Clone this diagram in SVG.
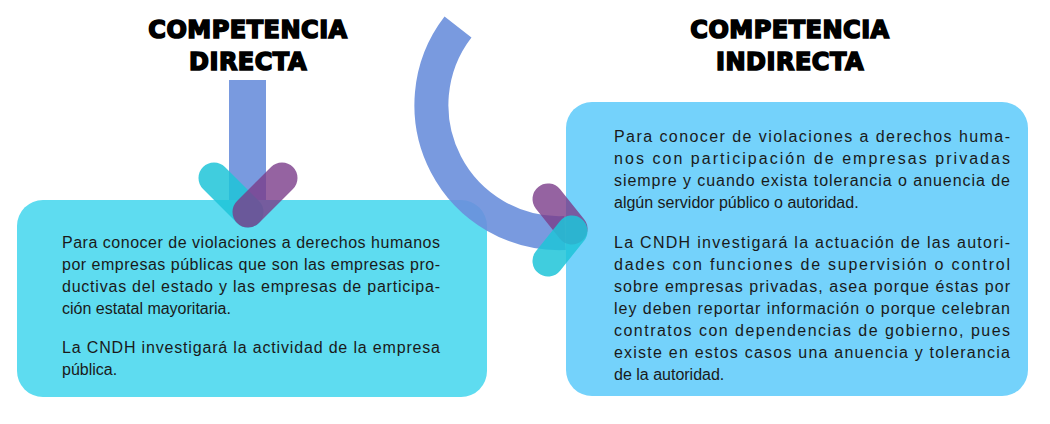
<svg xmlns="http://www.w3.org/2000/svg" width="1050" height="424" viewBox="0 0 1050 424">
<style>
.t{font-family:"Liberation Sans",Arial,sans-serif;font-size:16px;fill:#1a1a1a}
.h{font-family:"DejaVu Sans",sans-serif;font-weight:bold;font-size:24px;fill:#000;stroke:#000;stroke-width:1.6;text-anchor:middle;letter-spacing:0.5px}
.cap{fill:none;stroke-width:31;stroke-linecap:round}
</style>
<rect width="1050" height="424" fill="#fff"/>
<g id="title-directa"><text class="h" x="248" y="38">COMPETENCIA</text><text class="h" x="248" y="70">DIRECTA</text></g>
<g id="title-indirecta"><text class="h" x="790" y="38">COMPETENCIA</text><text class="h" x="790" y="70">INDIRECTA</text></g>
<g id="box-directa">
<rect x="17" y="200" width="470" height="197" rx="26" fill="#5edcf0"/>
<text class="t"><tspan x="62" y="248" textLength="378" lengthAdjust="spacing">Para conocer de violaciones a derechos humanos</tspan><tspan x="62" y="270" textLength="378" lengthAdjust="spacing">por empresas públicas que son las empresas pro-</tspan><tspan x="62" y="292" textLength="378" lengthAdjust="spacing">ductivas del estado y las empresas de participa-</tspan><tspan x="62" y="314">ción estatal mayoritaria.</tspan><tspan x="62" y="353" textLength="378" lengthAdjust="spacing">La CNDH investigará la actividad de la empresa</tspan><tspan x="62" y="375">pública.</tspan></text>
</g>
<g id="box-indirecta">
<rect x="566" y="102" width="462" height="294" rx="26" fill="#74d2fb"/>
<text class="t"><tspan x="614" y="142" textLength="396" lengthAdjust="spacing">Para conocer de violaciones a derechos huma-</tspan><tspan x="614" y="164" textLength="396" lengthAdjust="spacing">nos con participación de empresas privadas</tspan><tspan x="614" y="186" textLength="396" lengthAdjust="spacing">siempre y cuando exista tolerancia o anuencia de</tspan><tspan x="614" y="208">algún servidor público o autoridad.</tspan><tspan x="614" y="248" textLength="396" lengthAdjust="spacing">La CNDH investigará la actuación de las autori-</tspan><tspan x="614" y="270" textLength="396" lengthAdjust="spacing">dades con funciones de supervisión o control</tspan><tspan x="614" y="292" textLength="396" lengthAdjust="spacing">sobre empresas privadas, asea porque éstas por</tspan><tspan x="614" y="314" textLength="396" lengthAdjust="spacing">ley deben reportar información o porque celebran</tspan><tspan x="614" y="336" textLength="396" lengthAdjust="spacing">contratos con dependencias de gobierno, pues</tspan><tspan x="614" y="358" textLength="396" lengthAdjust="spacing">existe en estos casos una anuencia y tolerancia</tspan><tspan x="614" y="380">de la autoridad.</tspan></text>
</g>
<g id="connectors">
<rect x="229" y="80" width="37" height="120" fill="#6a8fdc" opacity="0.9"/>
<line class="cap" x1="214" y1="178" x2="248" y2="212" stroke="#1ec4d8" opacity="0.85"/>
<line class="cap" x1="282" y1="178" x2="248" y2="212" stroke="#7a3c8a" opacity="0.8"/>
<path d="M458,27 A128,128 0 0 0 565,233" fill="none" stroke="#6a8fdc" stroke-width="34" opacity="0.9"/>
<line class="cap" x1="548" y1="199" x2="572" y2="229" stroke="#7a3c8a" opacity="0.8"/>
<line class="cap" x1="548" y1="261" x2="572" y2="231" stroke="#1ec4d8" opacity="0.85"/>
</g>
</svg>
